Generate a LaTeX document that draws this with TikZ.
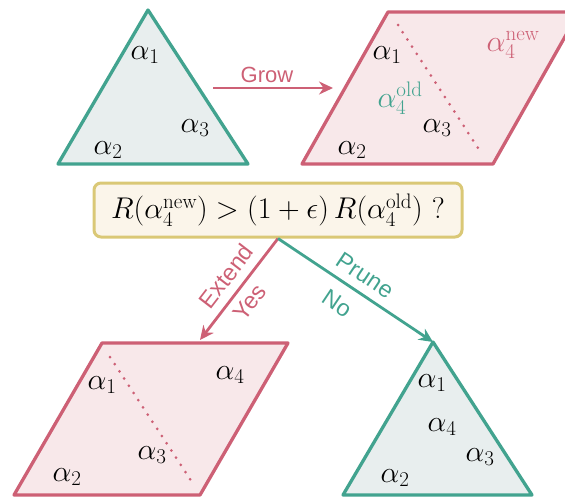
\RequirePackage{fix-cm}
\documentclass[tikz,border=0pt]{standalone}
\usepackage{amsmath}
\usepackage{fontspec}
\setsansfont{Liberation Sans}
\usetikzlibrary{arrows.meta}

\definecolor{tealc}{RGB}{66,163,143}
\definecolor{tealfill}{RGB}{232,238,238}
\definecolor{rosec}{RGB}{205,96,117}
\definecolor{rosefill}{RGB}{248,232,234}
\definecolor{boxfill}{RGB}{251,245,234}
\definecolor{boxline}{RGB}{218,200,118}

\begin{document}
\begin{tikzpicture}[x=1pt,y=-1pt,>={Stealth[length=14pt,width=13pt]},
  tri/.style={draw=tealc,fill=tealfill,line width=3.3pt,line join=round},
  para/.style={draw=rosec,fill=rosefill,line width=3.3pt,line join=round},
  cut/.style={rosec,line width=3pt,line cap=round,dash pattern=on 0pt off 8.6pt},
  lab/.style={font=\fontsize{30}{34}\selectfont},
  act/.style={font=\sffamily\fontsize{23.5}{26}\selectfont},
  link/.style={->,line width=2.8pt}]
  \useasboundingbox (0,0) rectangle (565,498);

  % top row: old simplex and grown cell
  \draw[tri] (148,10) -- (248,164) -- (58,164) -- cycle;
  \node[lab] (a1) at (145,55) {$\alpha_1$};
  \node[lab] (a3) at (195,128) {$\alpha_3$};
  \node[lab] (a2) at (108,150) {$\alpha_2$};

  \draw[para] (388,12) -- (579,12) -- (493,164) -- (302,164) -- cycle;
  \draw[cut] (398,25) -- (480,151);
  \node[lab] (g1) at (387,55) {$\alpha_1$};
  \node[lab,rosec] (gnew) at (513,45) {$\alpha_4^{\text{new}}$};
  \node[lab,tealc] (gold) at (400,98) {$\alpha_4^{\text{old}}$};
  \node[lab] (g3) at (437,128) {$\alpha_3$};
  \node[lab] (g2) at (352,150) {$\alpha_2$};

  \coordinate (growfrom) at (213,88);
  \coordinate (growto) at (333,88);
  \draw[link,rosec] (growfrom) -- (growto)
    node[pos=0.45,above=1pt,act,font=\sffamily\fontsize{22}{25}\selectfont] (grow) {Grow};

  % test
  \node[draw=boxline,fill=boxfill,line width=3pt,rounded corners=7pt,
    minimum width=368pt,minimum height=54pt,inner sep=2pt,
    font=\fontsize{30}{34}\selectfont] (test) at (278,210)
    {$R(\alpha_4^{\text{new}}) > (1+\epsilon)\,R(\alpha_4^{\text{old}})$ ?};

  % bottom row
  \draw[para] (102,343) -- (288,343) -- (200,495) -- (14,495) -- cycle;
  \draw[cut] (110,357) -- (192,482);
  \node[lab] (e1) at (102,385) {$\alpha_1$};
  \node[lab] (e4) at (230,375) {$\alpha_4$};
  \node[lab] (e3) at (152,455) {$\alpha_3$};
  \node[lab] (e2) at (67,477) {$\alpha_2$};

  \draw[tri] (433,342) -- (532,495) -- (343,495) -- cycle;
  \node[lab] (p1) at (432,383) {$\alpha_1$};
  \node[lab] (p4) at (442,427) {$\alpha_4$};
  \node[lab] (p3) at (480,457) {$\alpha_3$};
  \node[lab] (p2) at (395,478) {$\alpha_2$};

  \coordinate (extendto) at (200,340);
  \coordinate (pruneto) at (433,342);
  \draw[link,rosec] (test.south) -- (extendto)
    node[pos=0.48,sloped,above=5pt,act] (extend) {Extend}
    node[pos=0.53,sloped,below=4pt,act] (yes) {Yes};
  \draw[link,tealc] (test.south) -- (pruneto)
    node[pos=0.5,sloped,above=5pt,act] (prune) {Prune}
    node[pos=0.46,sloped,below=8pt,act] (no) {No};
\end{tikzpicture}
\end{document}
